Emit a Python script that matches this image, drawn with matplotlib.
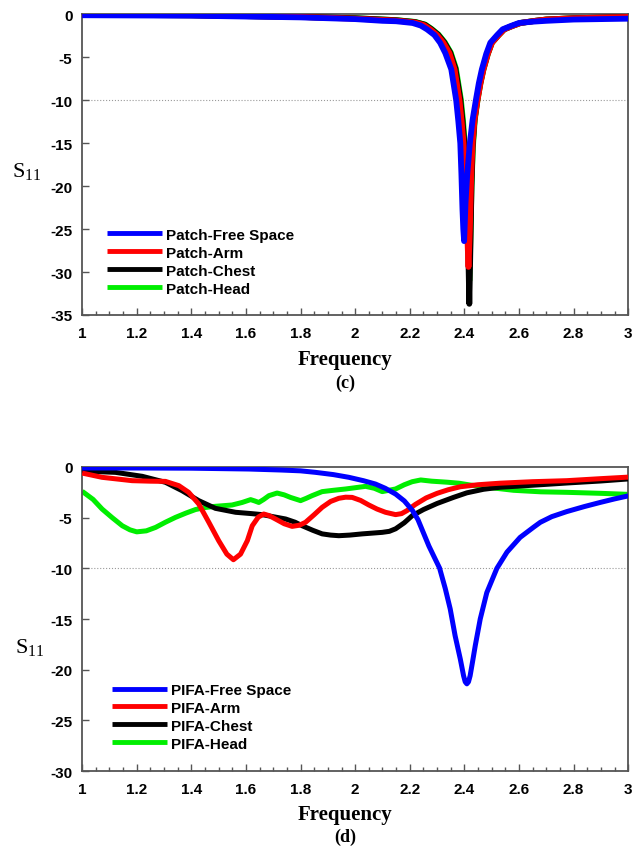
import matplotlib
matplotlib.use('Agg')
import matplotlib.pyplot as plt
from matplotlib.ticker import MultipleLocator

plt.rcParams['font.family'] = ['Liberation Sans', 'DejaVu Sans']
plt.rcParams['mathtext.fontset'] = 'custom'
plt.rcParams['mathtext.rm'] = 'Liberation Serif'
plt.rcParams['axes.unicode_minus'] = False

# ---- (c) patch antenna ----
patch_fs_f = [1.0, 1.4, 1.8, 2.0, 2.1, 2.15, 2.21, 2.24, 2.263, 2.29, 2.311, 2.33, 2.352, 2.36, 2.37,
              2.378, 2.385, 2.389, 2.393, 2.396, 2.399, 2.404, 2.41, 2.42, 2.43, 2.442, 2.453, 2.464,
              2.48, 2.495, 2.52, 2.54, 2.57, 2.60, 2.65, 2.7, 2.8, 3.0]
patch_fs = [-0.1, -0.15, -0.35, -0.55, -0.75, -0.8, -1.0, -1.3, -1.74, -2.4, -3.3, -4.5, -6.4, -8.0, -10.0,
            -12.5, -15.0, -18.5, -22.7, -25.0, -26.4, -22.0, -18.8, -15.0, -12.3, -10.0, -8.0, -6.4,
            -4.6, -3.3, -2.4, -1.74, -1.35, -1.0, -0.85, -0.75, -0.6, -0.5]

patch_arm_f = [1.0, 1.4, 1.8, 2.0, 2.1, 2.15, 2.22, 2.252, 2.275, 2.30, 2.323, 2.345, 2.364, 2.372, 2.382,
               2.39, 2.397, 2.403, 2.407, 2.411, 2.415, 2.42, 2.425, 2.43, 2.437, 2.448, 2.459, 2.47,
               2.486, 2.501, 2.526, 2.546, 2.576, 2.606, 2.66, 2.7, 2.8, 3.0]
patch_arm = [-0.05, -0.1, -0.3, -0.5, -0.65, -0.72, -0.95, -1.25, -1.74, -2.4, -3.3, -4.5, -6.4, -8.0, -10.0,
             -12.5, -15.0, -18.5, -22.7, -26.0, -29.4, -25.0, -18.8, -15.0, -12.3, -10.0, -8.0, -6.4,
             -4.6, -3.3, -2.4, -1.74, -1.35, -1.0, -0.75, -0.6, -0.45, -0.3]

patch_chest_f = [1.0, 1.4, 1.8, 2.0, 2.1, 2.15, 2.22, 2.255, 2.278, 2.303, 2.326, 2.348, 2.367, 2.375, 2.385,
                 2.393, 2.4, 2.406, 2.41, 2.414, 2.418, 2.422, 2.426, 2.43, 2.437, 2.447, 2.458, 2.469,
                 2.485, 2.5, 2.525, 2.545, 2.575, 2.605, 2.66, 2.7, 2.8, 3.0]
patch_chest = [-0.05, -0.1, -0.3, -0.45, -0.6, -0.68, -0.9, -1.2, -1.7, -2.35, -3.25, -4.45, -6.3, -7.9, -9.9,
               -12.4, -15.0, -18.5, -22.7, -27.0, -33.7, -27.0, -20.0, -15.5, -12.3, -10.0, -8.0, -6.4,
               -4.6, -3.3, -2.4, -1.74, -1.35, -1.0, -0.75, -0.6, -0.45, -0.3]

patch_head_f = [1.0, 1.4, 1.8, 2.0, 2.1, 2.15, 2.22, 2.257, 2.28, 2.305, 2.328, 2.35, 2.369, 2.377, 2.387,
                2.395, 2.401, 2.407, 2.411, 2.415, 2.418, 2.422, 2.426, 2.431, 2.438, 2.448, 2.459, 2.47,
                2.486, 2.501, 2.526, 2.546, 2.576, 2.606, 2.66, 2.7, 2.8, 3.0]
patch_head = [-0.05, -0.1, -0.3, -0.45, -0.6, -0.67, -0.88, -1.2, -1.7, -2.35, -3.25, -4.45, -6.3, -7.9, -9.9,
              -12.4, -15.0, -18.5, -22.7, -27.0, -31.0, -26.0, -20.0, -15.5, -12.3, -10.0, -8.0, -6.4,
              -4.6, -3.3, -2.4, -1.74, -1.35, -1.0, -0.75, -0.6, -0.45, -0.3]

# ---- (d) PIFA antenna ----
pifa_fs_f = [1.0, 1.2, 1.4, 1.61, 1.73, 1.8, 1.855, 1.92, 1.977, 2.03, 2.074, 2.11, 2.148, 2.18, 2.21,
             2.23, 2.25, 2.27, 2.287, 2.309, 2.33, 2.348, 2.366, 2.385, 2.397, 2.403, 2.409, 2.415, 2.421,
             2.43, 2.44, 2.458, 2.482, 2.519, 2.556, 2.604, 2.653, 2.678, 2.72, 2.775, 2.84, 2.897, 2.95, 3.0]
pifa_fs = [-0.1, -0.1, -0.12, -0.2, -0.3, -0.38, -0.53, -0.75, -1.02, -1.35, -1.68, -2.1, -2.67, -3.35, -4.3,
           -5.2, -6.5, -7.8, -8.75, -9.97, -12.0, -14.0, -16.65, -18.95, -20.6, -21.2, -21.4, -21.2, -20.6,
           -19.2, -17.6, -15.0, -12.4, -10.0, -8.4, -6.95, -5.95, -5.46, -4.9, -4.4, -3.9, -3.5, -3.15, -2.85]

pifa_arm_f = [1.0, 1.073, 1.183, 1.25, 1.305, 1.354, 1.39, 1.427, 1.464, 1.50, 1.53, 1.554,
              1.58, 1.605, 1.623, 1.645, 1.665, 1.685, 1.708, 1.74, 1.769, 1.795, 1.818, 1.85, 1.879,
              1.91, 1.94, 1.965, 1.989, 2.02, 2.05, 2.08, 2.111, 2.148, 2.17, 2.19, 2.22, 2.26, 2.3,
              2.34, 2.385, 2.45, 2.53, 2.65, 2.775, 2.9, 3.0]
pifa_arm = [-0.6, -1.02, -1.35, -1.4, -1.42, -1.84, -2.5, -3.65, -5.46, -7.27, -8.6, -9.15,
            -8.6, -7.27, -5.8, -4.95, -4.64, -4.8, -5.13, -5.6, -5.86, -5.75, -5.46, -4.7, -3.98,
            -3.4, -3.09, -2.98, -3.0, -3.3, -3.75, -4.15, -4.47, -4.7, -4.6, -4.3, -3.7, -3.05, -2.6,
            -2.25, -1.95, -1.75, -1.6, -1.45, -1.35, -1.15, -1.0]

pifa_chest_f = [1.0, 1.122, 1.22, 1.305, 1.366, 1.427, 1.488, 1.562, 1.62, 1.659, 1.745, 1.78, 1.806,
                1.845, 1.879, 1.91, 1.94, 1.98, 2.026, 2.099, 2.125, 2.148, 2.18, 2.209, 2.25, 2.3,
                2.36, 2.409, 2.47, 2.53, 2.65, 2.775, 2.9, 3.0]
pifa_chest = [-0.4, -0.53, -0.92, -1.51, -2.34, -3.32, -4.08, -4.47, -4.6, -4.7, -5.13, -5.45, -5.8,
              -6.25, -6.6, -6.72, -6.78, -6.72, -6.6, -6.45, -6.35, -6.1, -5.5, -4.8, -4.2, -3.6,
              -3.0, -2.55, -2.2, -2.0, -1.8, -1.58, -1.38, -1.18]

pifa_head_f = [1.0, 1.04, 1.073, 1.11, 1.147, 1.175, 1.20, 1.235, 1.269, 1.305, 1.342, 1.38, 1.415, 1.45,
               1.488, 1.549, 1.586, 1.617, 1.632, 1.647, 1.665, 1.684, 1.714, 1.74, 1.763, 1.80, 1.82,
               1.842, 1.879, 1.92, 1.965, 2.038, 2.07, 2.099, 2.148, 2.18, 2.209, 2.24, 2.28, 2.336,
               2.38, 2.421, 2.5, 2.58, 2.68, 2.775, 2.9, 3.0]
pifa_head = [-2.4, -3.2, -4.15, -5.0, -5.8, -6.2, -6.4, -6.3, -5.96, -5.45, -4.97, -4.55, -4.2, -4.0,
             -3.88, -3.75, -3.5, -3.22, -3.35, -3.5, -3.2, -2.83, -2.57, -2.75, -3.0, -3.32, -3.1,
             -2.83, -2.43, -2.3, -2.17, -1.91, -2.1, -2.43, -2.17, -1.75, -1.45, -1.28, -1.4, -1.5,
             -1.6, -1.78, -2.05, -2.3, -2.45, -2.5, -2.6, -2.7]

x_ticks = [1, 1.2, 1.4, 1.6, 1.8, 2, 2.2, 2.4, 2.6, 2.8, 3]
x_labels = ['1', '1.2', '1.4', '1.6', '1.8', '2', '2.2', '2.4', '2.6', '2.8', '3']


def draw_panel(ax, series, ymin, lw, legend_anchor):
    # series: list of (freq, s11, label, color, zorder)
    for f, s, label, color, z in series:
        ax.plot(f, s, color=color, lw=lw, label=label, zorder=z, solid_capstyle='butt',
                solid_joinstyle='round')
    ax.axhline(-10, ls=':', color='#9a9a9a', lw=0.8, zorder=1)
    ax.set_xlim(1, 3)
    ax.set_ylim(ymin, 0)
    ax.set_xticks(x_ticks)
    ax.set_xticklabels(x_labels)
    ax.set_yticks(list(range(ymin, 1, 5)))
    ax.xaxis.set_minor_locator(MultipleLocator(0.05))
    ax.tick_params(which='both', direction='in', color='#555555', labelsize=11, width=1)
    ax.tick_params(which='major', length=5)
    ax.tick_params(which='minor', length=3)
    ax.tick_params(axis='x', pad=8)
    ax.tick_params(axis='y', pad=7)
    for lab in ax.get_xticklabels() + ax.get_yticklabels():
        lab.set_fontweight('bold')
    for sp in ax.spines.values():
        sp.set_color('#555555')
        sp.set_linewidth(1.3)
    leg = ax.legend(loc='upper left', bbox_to_anchor=legend_anchor, frameon=False,
                    borderpad=0, borderaxespad=0, handlelength=3.6, handletextpad=0.3,
                    labelspacing=0.26, prop={'weight': 'bold', 'size': 11})
    for h in leg.get_lines():
        h.set_linewidth(3.5)


fig = plt.figure(figsize=(6.32, 8.54), dpi=100)
ax1 = fig.add_axes([0.130, 0.630, 0.864, 0.352])
ax2 = fig.add_axes([0.130, 0.096, 0.864, 0.356])

draw_panel(ax1, [
    (patch_fs_f, patch_fs, 'Patch-Free Space', '#0000ff', 5),
    (patch_arm_f, patch_arm, 'Patch-Arm', '#ff0000', 4),
    (patch_chest_f, patch_chest, 'Patch-Chest', '#000000', 3),
    (patch_head_f, patch_head, 'Patch-Head', '#00ee00', 2),
], -35, 4.2, (0.045, 0.29))

draw_panel(ax2, [
    (pifa_fs_f, pifa_fs, 'PIFA-Free Space', '#0000ff', 5),
    (pifa_arm_f, pifa_arm, 'PIFA-Arm', '#ff0000', 4),
    (pifa_chest_f, pifa_chest, 'PIFA-Chest', '#000000', 3),
    (pifa_head_f, pifa_head, 'PIFA-Head', '#00ee00', 2),
], -30, 3.6, (0.054, 0.29))

serif = ['Liberation Serif', 'DejaVu Serif']
fig.text(27 / 632, 1 - 172 / 854, r'$\mathrm{S}_{11}$', fontsize=16, ha='center', va='center')
fig.text(30 / 632, 1 - 648 / 854, r'$\mathrm{S}_{11}$', fontsize=16, ha='center', va='center')
fig.text(345 / 632, 1 - 360 / 854, 'Frequency', family=serif, weight='bold', fontsize=15,
         ha='center', va='center')
fig.text(345 / 632, 1 - 383 / 854, '(c)', family=serif, weight='bold', fontsize=13,
         ha='center', va='center')
fig.text(345 / 632, 1 - 815 / 854, 'Frequency', family=serif, weight='bold', fontsize=15,
         ha='center', va='center')
fig.text(345 / 632, 1 - 837 / 854, '(d)', family=serif, weight='bold', fontsize=13,
         ha='center', va='center')

fig.savefig('out.png', dpi=100)
